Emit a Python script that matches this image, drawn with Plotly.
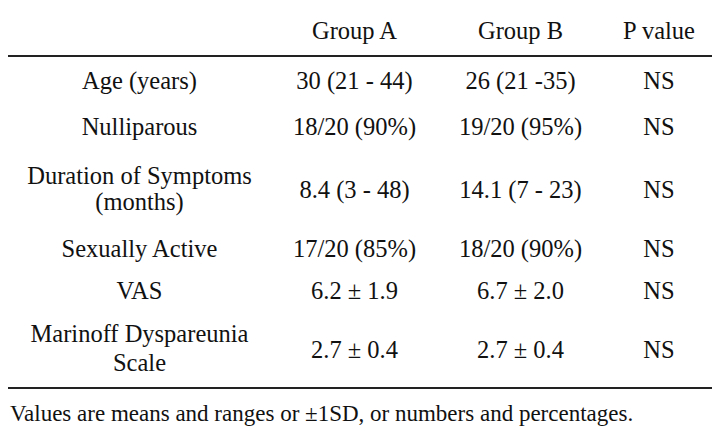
import plotly.graph_objects as go

headers = ["Group A", "Group B", "P value"]
variables = ["Age (years)", "Nulliparous", "Duration of Symptoms<br>(months)",
             "Sexually Active", "VAS", "Marinoff Dyspareunia<br>Scale"]
group_a = ["30 (21 - 44)", "18/20 (90%)", "8.4 (3 - 48)", "17/20 (85%)", "6.2 ± 1.9", "2.7 ± 0.4"]
group_b = ["26 (21 -35)", "19/20 (95%)", "14.1 (7 - 23)", "18/20 (90%)", "6.7 ± 2.0", "2.7 ± 0.4"]
p_values = ["NS", "NS", "NS", "NS", "NS", "NS"]
footnote = "Values are means and ranges or ±1SD, or numbers and percentages."

# layout positions (page pixel coordinates)
col_x = [139.5, 354.5, 520.5, 659]
header_y = 32.5
row_y = [82.5, 129, 192, 250.5, 293, 352]
two_line_gap = {2: (-14, 12), 5: (-16.5, 13)}
rule_y = [5, 56, 388]

FONT = "Liberation Serif"
SIZE = 24.5
COLOR = "#111"
fig = go.Figure()


def add_text(xs, ys, texts, pos="middle center", size=SIZE):
    fig.add_trace(go.Scatter(x=xs, y=ys, text=texts, mode="text", textposition=pos,
                             textfont=dict(family=FONT, size=size, color=COLOR),
                             hoverinfo="skip", showlegend=False))


add_text(col_x[1:], [header_y] * len(headers), headers)

# variable labels (multi-line labels placed line by line)
vx, vy, vt = [], [], []
for i, lab in enumerate(variables):
    parts = lab.split("<br>")
    if len(parts) == 1:
        vx.append(col_x[0]); vy.append(row_y[i]); vt.append(lab)
    else:
        for p, off in zip(parts, two_line_gap[i]):
            vx.append(col_x[0]); vy.append(row_y[i] + off); vt.append(p)
add_text(vx, vy, vt)

for cx, col in zip(col_x[1:], [group_a, group_b, p_values]):
    add_text([cx] * len(col), row_y, col)

add_text([10], [415], [footnote], pos="middle right", size=23)

for yy in rule_y:
    fig.add_shape(type="line", x0=8, x1=715, y0=yy, y1=yy, xref="x", yref="y",
                  line=dict(color="#222", width=2))

# page body has an 8px margin; shift the ranges so coordinates match page pixels
fig.update_layout(width=720, height=431, margin=dict(l=0, r=0, t=0, b=0),
                  paper_bgcolor="white", plot_bgcolor="white",
                  font=dict(family=FONT),
                  xaxis=dict(range=[8, 728], visible=False, fixedrange=True),
                  yaxis=dict(range=[439, 8], visible=False, fixedrange=True))
fig.write_html("out.html")
